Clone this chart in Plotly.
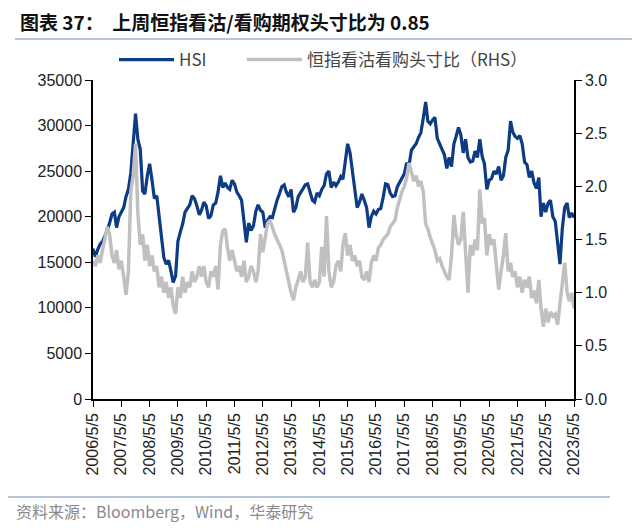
import pandas as pd
import plotly.graph_objects as go

# Monthly observations, 2006-05 .. 2023-05 (205 points)
start_month = "2006-05-01"

hsi = [
    16500, 15600, 16400, 17000, 17300, 17800, 18500, 19300,                      # 2006 May-Dec
    20300, 20500, 18800, 20000, 20600, 21000, 22200, 23000, 24800, 28300, 31300, 28500,  # 2007
    27400, 22800, 22500, 24500, 25800, 24000, 22000, 22300, 20000, 17500, 15500, 14800,  # 2008
    15200, 14000, 12800, 13500, 17300, 18300, 19200, 20500, 21000, 21300, 22300, 22000,  # 2009
    21200, 20200, 20700, 21600, 21200, 19800, 20100, 21300, 21500, 22700, 24500, 23200,  # 2010
    23700, 23200, 23000, 24000, 23600, 22700, 22300, 21800, 19500, 17200, 19300, 18500,  # 2011
    19000, 20600, 21300, 20700, 20500, 18800, 19600, 20000, 19900, 20900, 21800, 22500,  # 2012
    23300, 23500, 22700, 22200, 23000, 20500, 21000, 22200, 22600, 23000, 23500, 23600,  # 2013
    22600, 21800, 21600, 22600, 22300, 23000, 23400, 24700, 25000, 23200, 23800, 23400,  # 2014
    23800, 24400, 24100, 25800, 28000, 27000, 25000, 23500, 21000, 21600, 22500, 21800,  # 2015
    21000, 18800, 20000, 20600, 20300, 20800, 20900, 22100, 23600, 23500, 22600, 22200,  # 2016
    22300, 23300, 23700, 24200, 24700, 25900, 25600, 27300, 27700, 28000, 28700, 29200,  # 2017
    30800, 32600, 30500, 30200, 30600, 30900, 28600, 28000, 27300, 26800, 25300, 26500,  # 2018
    25500, 28000, 28800, 29800, 29000, 27000, 28500, 26500, 26000, 26100, 27200, 26500,  # 2019
    28500, 26600, 25800, 23000, 24000, 24200, 25000, 24700, 25500, 24000, 24500, 26500,  # 2020
    27300, 30500, 29300, 28800, 28600, 28900, 28000, 26000, 25700, 24300, 25000, 23700,  # 2021
    23100, 24300, 20000, 21500, 20500, 21500, 21800, 20000, 19500, 17000, 14800, 18700,  # 2022
    21000, 21500, 19900, 20400, 19900,                                           # 2023 Jan-May
]

put_call = [
    1.30, 1.25, 1.35, 1.28, 1.40, 1.50, 1.62, 1.55,                              # 2006 May-Dec
    1.35, 1.28, 1.40, 1.22, 1.30, 1.15, 0.98, 1.20, 1.95, 2.10, 2.40, 1.75,      # 2007
    1.45, 1.55, 1.30, 1.45, 1.25, 1.35, 1.20, 1.25, 1.05, 1.15, 1.00, 1.10,      # 2008
    0.95, 1.05, 0.88, 0.80, 1.05, 0.95, 1.15, 1.00, 1.10, 1.05, 1.20, 1.10,      # 2009
    1.15, 1.25, 1.15, 1.25, 1.10, 1.05, 1.20, 1.15, 1.25, 1.03, 1.45, 1.58,      # 2010
    1.60, 1.42, 1.30, 1.40, 1.30, 1.20, 1.25, 1.15, 1.30, 1.10, 1.15, 1.25,      # 2011
    1.20, 1.10, 1.20, 1.55, 1.38, 1.50, 1.65, 1.68, 1.60, 1.55, 1.50, 1.45,      # 2012
    1.40, 1.30, 1.20, 1.10, 1.00, 0.93, 1.05, 1.12, 1.20, 1.10, 1.15, 1.47,      # 2013
    1.10, 1.05, 1.12, 1.05, 1.10, 1.43, 1.15, 1.72, 1.20, 1.05, 1.10, 1.25,      # 2014
    1.30, 1.20, 1.45, 1.56, 1.35, 1.45, 1.30, 1.35, 1.25, 1.30, 1.15, 1.12,      # 2015
    1.20, 1.10, 1.28, 1.35, 1.30, 1.42, 1.45, 1.50, 1.52, 1.55, 1.62, 1.65,      # 2016
    1.68, 1.80, 1.88, 1.95, 2.00, 2.08, 2.22, 2.12, 2.05, 2.10, 2.00, 2.05,      # 2017
    1.95, 1.65, 1.60, 1.52, 1.45, 1.40, 1.30, 1.32, 1.25, 1.20, 1.15, 1.12,      # 2018
    1.35, 1.73, 1.55, 1.45, 1.50, 1.76, 1.42, 1.00, 1.45, 1.35, 1.50, 1.40,      # 2019
    1.97, 1.65, 1.70, 1.35, 1.55, 1.45, 1.50, 1.25, 1.03, 1.20, 1.35, 1.56,      # 2020
    1.20, 1.28, 1.15, 1.20, 1.05, 1.15, 1.00, 1.12, 1.05, 1.15, 0.95, 1.02,      # 2021
    0.90, 1.12, 0.85, 0.68, 0.85, 0.72, 0.82, 0.78, 0.80, 0.70, 0.88, 1.05,      # 2022
    1.28, 1.00, 0.92, 1.00, 0.85,                                                # 2023 Jan-May
]

tick_dates = [f"{y}-05-05" for y in range(2006, 2024)]
tick_labels = [f"{y}/5/5" for y in range(2006, 2024)]

assert len(hsi) == 205 and len(put_call) == 205
dates = pd.date_range(start_month, periods=len(hsi), freq="MS") + pd.Timedelta(days=4)

NAVY = "#0D3B84"
GREY = "#C0C0C0"
LATIN = "Liberation Sans, Arial, sans-serif"
CJK = "Noto Sans CJK SC, sans-serif"

# plot area in figure pixels (page adds an 8px body margin)
L, R, T, B = 85, 566, 72, 391
W, H = R - L, B - T


def px(x):
    return (x - L) / W


def py(y):
    return (B - y) / H


fig = go.Figure()
fig.add_trace(go.Scatter(
    x=dates, y=put_call, name="恒指看沽看购头寸比（RHS）", yaxis="y2",
    mode="lines", line=dict(color=GREY, width=3.5), legendrank=2,
))
fig.add_trace(go.Scatter(
    x=dates, y=hsi, name="HSI" + "\u00a0" * 8, yaxis="y",
    mode="lines", line=dict(color=NAVY, width=3.2), legendrank=1,
))

axis_font = dict(family=LATIN, size=16, color="#222222")

fig.update_layout(
    width=640, height=528,
    margin=dict(l=L, r=640 - R, t=T, b=528 - B),
    paper_bgcolor="white", plot_bgcolor="white",
    font=dict(family=LATIN, size=16, color="#222222"),
    showlegend=True,
    legend=dict(
        orientation="h", x=px(106), xanchor="left", y=py(52), yanchor="middle",
        font=dict(family=CJK + ", " + LATIN, size=17, color="#444444"),
        bgcolor="rgba(0,0,0,0)", itemwidth=55,
        traceorder="normal",
    ),
    xaxis=dict(
        type="date",
        range=["2006-05-05", "2023-05-05"],
        tickvals=tick_dates, ticktext=tick_labels, tickangle=-90,
        showline=True, linecolor="black", linewidth=1.5,
        ticks="outside", ticklen=6, tickcolor="black",
        showgrid=False, zeroline=False, tickfont=axis_font,
    ),
    yaxis=dict(
        range=[0, 35000], dtick=5000, tickformat="d",
        showline=True, linecolor="black", linewidth=1.5,
        ticks="outside", ticklen=6, tickcolor="black",
        showgrid=False, zeroline=False, tickfont=axis_font,
    ),
    yaxis2=dict(
        range=[0, 3.0], dtick=0.5, tickformat=".1f",
        overlaying="y", side="right",
        showline=True, linecolor="black", linewidth=1.5,
        ticks="outside", ticklen=6, tickcolor="black",
        showgrid=False, zeroline=False, tickfont=axis_font,
    ),
)

# Title and footer
fig.add_annotation(
    text="<b>图表 37：  上周恒指看沽/看购期权头寸比为 0.85</b>",
    xref="paper", yref="paper", x=px(10), y=py(14),
    xanchor="left", yanchor="middle", showarrow=False,
    font=dict(family=CJK, size=19, color="#111111"),
)
fig.add_annotation(
    text="资料来源：Bloomberg，Wind，华泰研究",
    xref="paper", yref="paper", x=px(6), y=py(503),
    xanchor="left", yanchor="middle", showarrow=False,
    font=dict(family=CJK, size=16, color="#8a8a8a"),
)
fig.add_shape(type="line", xref="paper", yref="paper",
              x0=px(7), x1=px(627), y0=py(31), y1=py(31),
              line=dict(color="#9DB0C8", width=1.5))
fig.add_shape(type="line", xref="paper", yref="paper",
              x0=px(-8), x1=px(602), y0=py(489), y1=py(489),
              line=dict(color="#9DB0C8", width=1.5))

fig.write_html("out.html")
